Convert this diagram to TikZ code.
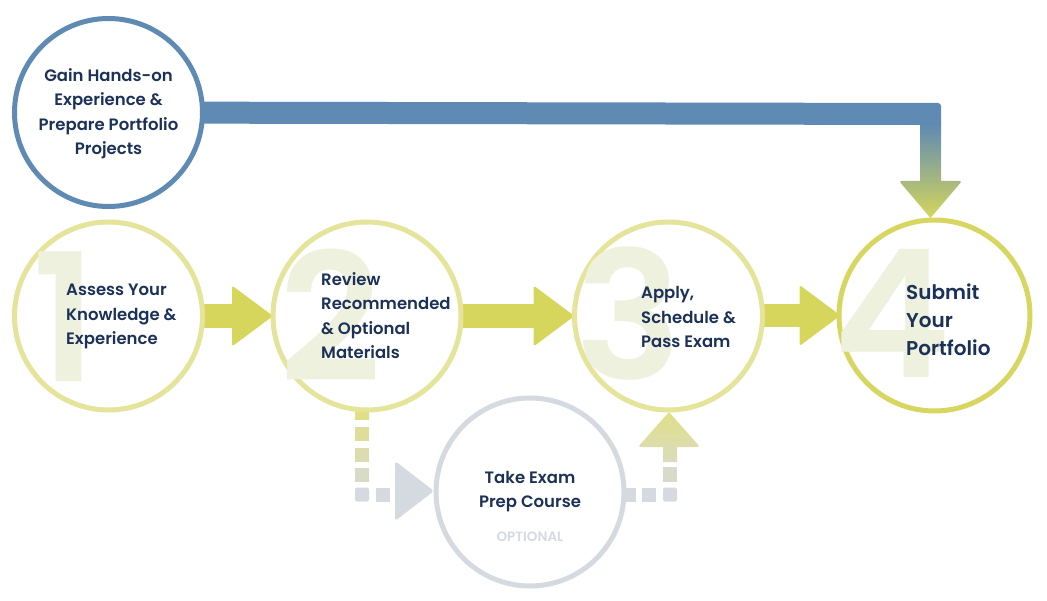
\documentclass[tikz,border=0pt]{standalone}
\usepackage{fontspec}
\setmainfont{Poppins}[BoldFont={Poppins SemiBold}]
\usetikzlibrary{calc}
\definecolor{navy}{HTML}{1B3158}
\definecolor{bluec}{HTML}{5E8AB4}
\definecolor{ylight}{HTML}{E4E49A}
\definecolor{ystrong}{HTML}{D7D660}
\definecolor{arrowc}{HTML}{D6D65C}
\definecolor{numc}{HTML}{EEF1DE}
\definecolor{greyc}{HTML}{D5DAE1}
\definecolor{dashy}{HTML}{E0DF88}
\begin{document}
\begin{tikzpicture}[x=1pt,y=-1pt,
  ring/.style={circle, minimum size=188pt, inner sep=0pt, line width=5pt, fill=white},
  lbl/.style={font=\bfseries\fontsize{16.5}{24.5}\selectfont, text=navy, align=left, inner sep=0pt},
  bignum/.style={font=\bfseries\fontsize{178}{178}\selectfont, text=numc, inner sep=0pt, anchor=base},
  yarrow/.style={fill=arrowc}]
\useasboundingbox (0,0) rectangle (1047,601);

% node positions (coordinates)
\coordinate (p0) at (108.5,112.5);
\coordinate (p1) at (108.5,316);
\coordinate (p2) at (367,316);
\coordinate (p3) at (668.5,316);
\coordinate (p4) at (934.5,315.5);
\coordinate (p5) at (530,492);

% ---------- connectors (drawn first, circles cover their ends) ----------
% blue connector from c0 to c4
\coordinate (bend) at (930.5,114);
\fill[bluec] ($(p0)+(0,-11)$) [rounded corners=3pt]-- ($(bend)+(10.5,-11)$) [sharp corners]-- ($(bend)+(10.5,11)$) -- ($(p0)+(0,11)$) -- cycle;
\shade[top color=bluec, bottom color=arrowc]
  ($(bend)+(-10.5,10)$) -- ($(bend)+(-10.5,67)$) [rounded corners=2.5pt]-- ($(bend)+(-31.5,67)$) [sharp corners]-- (930.5,218) [rounded corners=2.5pt]-- ($(bend)+(31.5,67)$) [sharp corners]-- ($(bend)+(10.5,67)$) -- ($(bend)+(10.5,10)$) -- cycle;

% yellow arrows between main steps
\foreach \a/\b in {p1/p2, p2/p3, p3/p4}{
  \fill[yarrow] ($(\a)+(90,-12)$) rectangle ($(\b)+(-134,12)$);
  \fill[yarrow, rounded corners=2.5pt] ($(\b)+(-135,-30.5)$) -- ($(\b)+(-94,0)$) -- ($(\b)+(-135,30.5)$) -- cycle;
}

% dashed connector c2 -> c5
\fill[dashy] (355,406) rectangle (369,420);
\fill[dashy!80!greyc] (355,427) rectangle (369,441);
\fill[dashy!55!greyc] (355,447.5) rectangle (369,461.5);
\fill[dashy!30!greyc] (355,468) rectangle (369,482);
\fill[greyc, rounded corners=2pt] (355,487.5) rectangle (369,501.5);
\fill[greyc] (376,487.5) rectangle (390,501.5);
\fill[greyc, rounded corners=3pt] (395,461) -- (434,491) -- (395,521) -- cycle;

% dashed connector c5 -> c3
\fill[greyc] (618,487.5) rectangle (636,501.5);
\fill[greyc] (642,487.5) rectangle (656,501.5);
\fill[greyc, rounded corners=2pt] (663,487.5) rectangle (677,501.5);
\fill[dashy!25!greyc] (663,467) rectangle (677,482);
\shade[top color=dashy, bottom color=dashy!40!greyc]
  (663,462) -- (663,447) [rounded corners=2.5pt]-- (638,447) [sharp corners]-- (669,412) [rounded corners=2.5pt]-- (700,447) [sharp corners]-- (677,447) -- (677,462) -- cycle;

% ---------- circles ----------
\node[ring, draw=bluec] (c0) at (p0) {};
\node[ring, draw=ylight] (c1) at (p1) {};
\node[ring, draw=ylight] (c2) at (p2) {};
\node[ring, draw=ylight] (c3) at (p3) {};
\node[ring, draw=ystrong, minimum size=191pt] (c4) at (p4) {};
\node[ring, draw=greyc] (c5) at (p5) {};

% ---------- big numbers ----------
\node[bignum] (n1) at (65,382) {1};
\node[bignum] (n2) at (331,382) {2};
\node[bignum] (n3) at (629,380) {3};
\node[bignum] (n4) at (892,378) {4};

% ---------- labels ----------
\node[lbl, align=center] (t0) at (108.5,113.5) {Gain Hands-on\\Experience \&\\Prepare Portfolio\\Projects};
\node[lbl, anchor=west] (t1) at (66,316.5) {Assess Your\\Knowledge \&\\Experience};
\node[lbl, anchor=west] (t2) at (321,315.5) {Review\\Recommended\\\& Optional\\Materials};
\node[lbl, anchor=west] (t3) at (641,317) {Apply,\\Schedule \&\\Pass Exam};
\node[lbl, anchor=west, font=\bfseries\fontsize{20}{28}\selectfont] (t4) at (906,320) {Submit\\Your\\Portfolio};
\node[lbl, align=center] (t5) at (530,491.5) {Take Exam\\Prep Course};
\node[lbl, text=greyc, font=\bfseries\fontsize{13.5}{15}\selectfont] (t6) at (530,537) {OPTIONAL};
\end{tikzpicture}
\end{document}
